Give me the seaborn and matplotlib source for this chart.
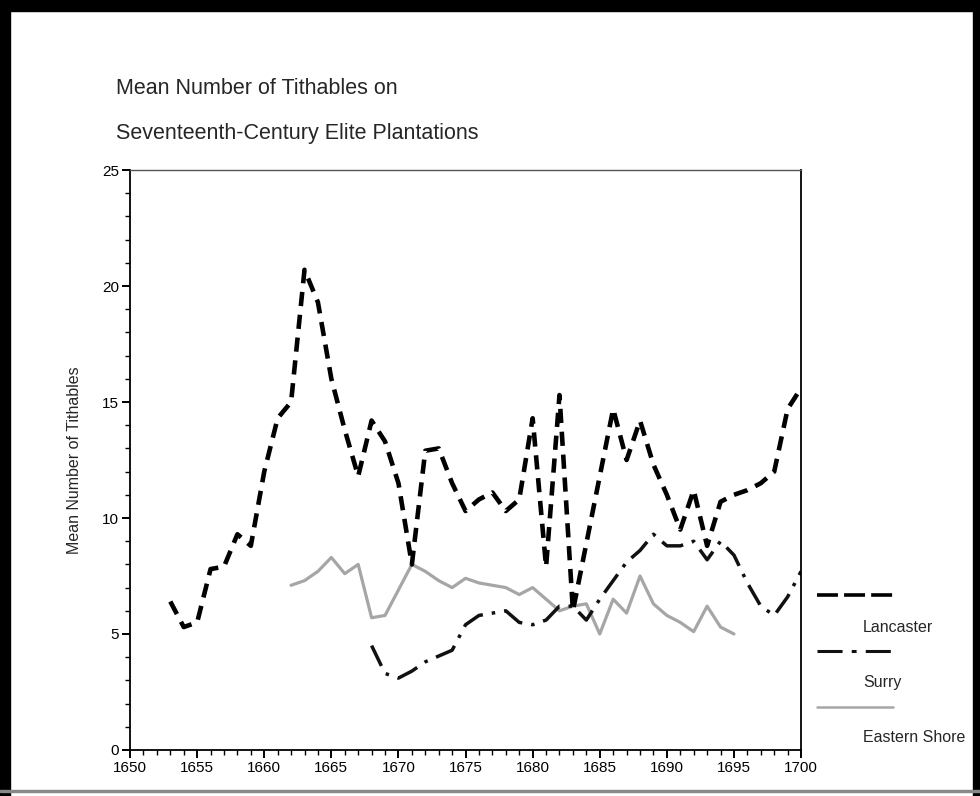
import matplotlib
matplotlib.use("Agg")
import matplotlib.pyplot as plt
from matplotlib.lines import Line2D
from matplotlib.patches import Rectangle
from matplotlib.ticker import MultipleLocator
import seaborn as sns
import pandas as pd

# ---- data ----
lancaster_years = list(range(1653, 1701))
lancaster_vals = [6.4, 5.3, 5.5, 7.8, 7.9, 9.3, 8.8, 12.0, 14.3, 15.0,
                  20.7, 19.3, 16.0, 13.8, 11.8, 14.2, 13.3, 11.5, 8.0, 12.9,
                  13.0, 11.5, 10.3, 10.8, 11.1, 10.3, 10.8, 14.3, 7.9, 15.3,
                  6.0, 8.9, 11.8, 14.7, 12.5, 14.2, 12.3, 11.0, 9.5, 11.2,
                  8.8, 10.7, 11.0, 11.2, 11.5, 12.0, 14.7, 15.6]

surry_years = list(range(1668, 1701))
surry_vals = [4.5, 3.3, 3.1, 3.4, 3.8, 4.05, 4.3, 5.4, 5.8, 5.9,
              6.0, 5.5, 5.4, 5.6, 6.2, 6.2, 5.6, 6.5, 7.3, 8.1,
              8.6, 9.3, 8.8, 8.8, 9.0, 8.2, 9.0, 8.4, 7.2, 6.2,
              5.8, 6.6, 7.7]

eastern_years = list(range(1662, 1696))
eastern_vals = [7.1, 7.3, 7.7, 8.3, 7.6, 8.0, 5.7, 5.8, 6.9, 8.0,
                7.7, 7.3, 7.0, 7.4, 7.2, 7.1, 7.0, 6.7, 7.0, 6.5,
                6.0, 6.2, 6.3, 5.0, 6.5, 5.9, 7.5, 6.3, 5.8, 5.5,
                5.1, 6.2, 5.3, 5.0]

series_names = ["Lancaster", "Surry", "Eastern Shore"]
title_lines = ["Mean Number of Tithables on", "Seventeenth-Century Elite Plantations"]
y_label = "Mean Number of Tithables"

sns.set_theme(style="white")
plt.rcParams["font.family"] = ["Liberation Sans", "DejaVu Sans"]

fig = plt.figure(figsize=(9.8, 7.96), dpi=100)
fig.patch.set_facecolor("white")
ax = fig.add_axes([0.1327, 0.0578, 0.6847, 0.7286])

styles = {
    "Lancaster": dict(color="black", linewidth=3.3, linestyle=(0, (3.1, 1.9))),
    "Surry": dict(color="#111111", linewidth=2.5, linestyle=(0, (6.5, 2.6, 1.0, 2.6))),
    "Eastern Shore": dict(color="#a6a6a6", linewidth=2.3, linestyle="-"),
}
legend_styles = {
    "Lancaster": dict(color="black", linewidth=2.6, linestyle=(0, (5.8, 1.7))),
    "Surry": dict(color="#111111", linewidth=2.2, linestyle=(0, (8.2, 3.0, 1.6, 3.0))),
    "Eastern Shore": dict(color="#a6a6a6", linewidth=1.8, linestyle="-"),
}

df_l = pd.DataFrame({"year": lancaster_years, "value": lancaster_vals})
df_s = pd.DataFrame({"year": surry_years, "value": surry_vals})
df_e = pd.DataFrame({"year": eastern_years, "value": eastern_vals})

sns.lineplot(data=df_e, x="year", y="value", ax=ax, **styles["Eastern Shore"])
sns.lineplot(data=df_s, x="year", y="value", ax=ax, **styles["Surry"])
sns.lineplot(data=df_l, x="year", y="value", ax=ax, **styles["Lancaster"])

ax.set_xlim(1650, 1700)
ax.set_ylim(0, 25)
ax.xaxis.set_major_locator(MultipleLocator(5))
ax.xaxis.set_minor_locator(MultipleLocator(1))
ax.yaxis.set_major_locator(MultipleLocator(5))
ax.yaxis.set_minor_locator(MultipleLocator(1))
ax.tick_params(which="major", direction="out", length=6, width=1.4, colors="black",
               labelsize=11, bottom=True, left=True, pad=2)
ax.tick_params(which="minor", direction="out", length=3.5, width=1.0, colors="black",
               bottom=True, left=True)
for sp in ax.spines.values():
    sp.set_visible(True)
    sp.set_color("black")
    sp.set_linewidth(1.3)
ax.spines["top"].set_color("#555555")
ax.spines["top"].set_linewidth(1.0)
ax.set_xlabel("")
ax.set_ylabel(y_label, fontsize=11.5, labelpad=14)
ax.grid(False)

# titles
fig.text(0.118, 1 - 88 / 796, title_lines[0], fontsize=15.5, ha="left", va="center")
fig.text(0.118, 1 - 134 / 796, title_lines[1], fontsize=15.5, ha="left", va="center")

# legend (drawn to the right of the plot: sample line above, label below)
leg_rows = [(595, 628), (651, 683), (707, 738)]
for name, (ly, ty) in zip(series_names, leg_rows):
    st = legend_styles[name]
    fig.add_artist(Line2D([817 / 980, 893 / 980], [1 - ly / 796, 1 - ly / 796],
                          transform=fig.transFigure, **st))
    fig.text(863 / 980, 1 - ty / 796, name, fontsize=11.5, ha="left", va="center")

# black frame around the picture
fig.add_artist(Rectangle((0, 0), 10 / 980, 1, transform=fig.transFigure, color="black", zorder=10))
fig.add_artist(Rectangle((0, 1 - 11 / 796), 1, 11 / 796, transform=fig.transFigure, color="black", zorder=10))
fig.add_artist(Rectangle((1 - 7 / 980, 0), 7 / 980, 1, transform=fig.transFigure, color="black", zorder=10))
fig.add_artist(Rectangle((0, 4 / 796), 1, 2 / 796, transform=fig.transFigure, color="#888888", zorder=10))

fig.savefig("out.png", dpi=100, facecolor="white")
